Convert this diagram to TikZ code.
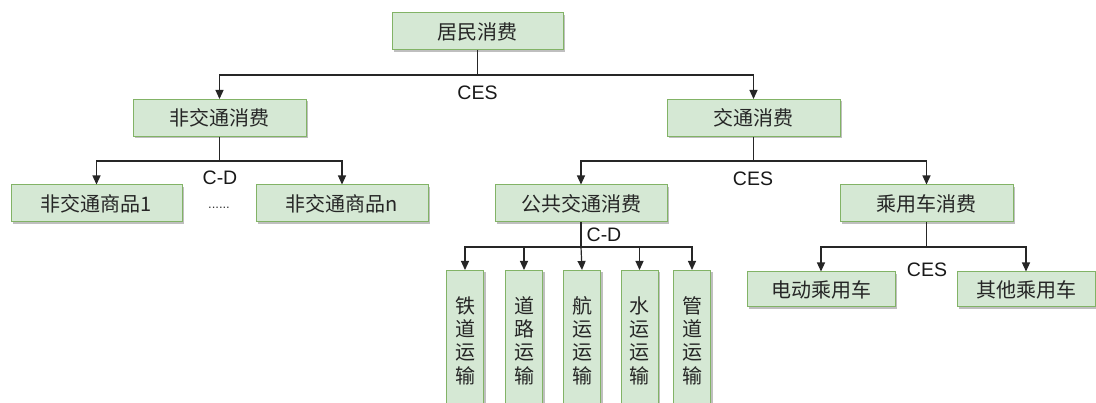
\documentclass[tikz,border=0pt]{standalone}
\usepackage{fontspec}
\newfontfamily\cjk{Noto Sans CJK SC}
\newfontfamily\lab{Liberation Sans}
\usetikzlibrary{arrows.meta,shadows}
\definecolor{boxfill}{HTML}{D5E8D4}
\definecolor{boxline}{HTML}{82B366}
\tikzset{
  box/.style={draw=boxline, fill=boxfill, line width=1pt, inner sep=0pt,
    minimum height=37pt, text=black!85, font=\cjk\fontsize{20}{23}\selectfont,
    drop shadow={shadow xshift=2pt, shadow yshift=-2pt, opacity=0.25, fill=black}},
  vbox/.style={box, minimum width=37pt, minimum height=140pt, anchor=north,
    align=center, font=\cjk\fontsize{20}{23.3}\selectfont},
  lbl/.style={font=\lab\fontsize{19.5}{20}\selectfont, inner sep=0pt, text=black!90},
  ln/.style={line width=1.2pt, black!85},
  arr/.style={ln, -{Triangle[length=9pt,width=8pt]}}
}
\begin{document}
\begin{tikzpicture}[x=1pt,y=-1pt]
\clip (0,0) rectangle (1096,403);
\fill[white] (0,0) rectangle (1096,403);
% level 0
\node[box, minimum width=171pt] (top) at (477.5,31.5) {居民消费};
% level 1
\node[box, minimum width=173pt] (nt) at (219.5,118) {非交通消费};
\node[box, minimum width=173pt] (tr) at (753.5,118) {交通消费};
% level 2
\node[box, minimum width=171pt] (g1) at (96.5,203.5) {非交通商品1};
\node[box, minimum width=172pt] (gn) at (342,203.5) {非交通商品n};
\node[box, minimum width=172pt] (pub) at (581,203.5) {公共交通消费};
\node[box, minimum width=173pt] (car) at (926.5,203.5) {乘用车消费};
% level 3
\node[vbox] (rail) at (465,270) {铁\\道\\运\\输};
\node[vbox] (road) at (524,270) {道\\路\\运\\输};
\node[vbox] (air) at (582,270) {航\\运\\运\\输};
\node[vbox] (water) at (639.5,270) {水\\运\\运\\输};
\node[vbox] (pipe) at (692,270) {管\\道\\运\\输};
\node[box, minimum width=148pt, minimum height=35pt] (ev) at (821,289.5) {电动乘用车};
\node[box, minimum width=138pt, minimum height=35pt] (oc) at (1026,289.5) {其他乘用车};
% junctions
\coordinate (j0) at (477.5,75);
\coordinate (j1) at (219.5,161);
\coordinate (j2) at (753.5,161);
\coordinate (j3) at (581,247);
\coordinate (j4) at (926.5,247);
% connectors
\draw[ln] (top.south) -- (j0);
\draw[arr] (j0) -| (nt.north);
\draw[arr] (j0) -| (tr.north);
\draw[ln] (nt.south) -- (j1);
\draw[arr] (j1) -| (g1.north);
\draw[arr] (j1) -| (gn.north);
\draw[ln] (tr.south) -- (j2);
\draw[arr] (j2) -| (pub.north);
\draw[arr] (j2) -| (car.north);
\draw[ln] (pub.south) -- (j3);
\draw[arr] (j3) -| (rail.north);
\draw[arr] (j3) -| (road.north);
\draw[arr] (j3) -- (air.north);
\draw[arr] (j3) -| (water.north);
\draw[arr] (j3) -| (pipe.north);
\draw[ln] (car.south) -- (j4);
\draw[arr] (j4) -| (ev.north);
\draw[arr] (j4) -| (oc.north);
% labels
\node[lbl] (l0) at (477.5,93) {CES};
\node[lbl] (l1) at (220,178) {C-D};
\node[lbl] (l2) at (753,179) {CES};
\node[lbl] (l3) at (604,235) {C-D};
\node[lbl] (l4) at (927,270) {CES};
\node[font=\lab\fontsize{13}{13}\selectfont, inner sep=0pt, text=black!80] (dots) at (219,208) {......};
\end{tikzpicture}
\end{document}
